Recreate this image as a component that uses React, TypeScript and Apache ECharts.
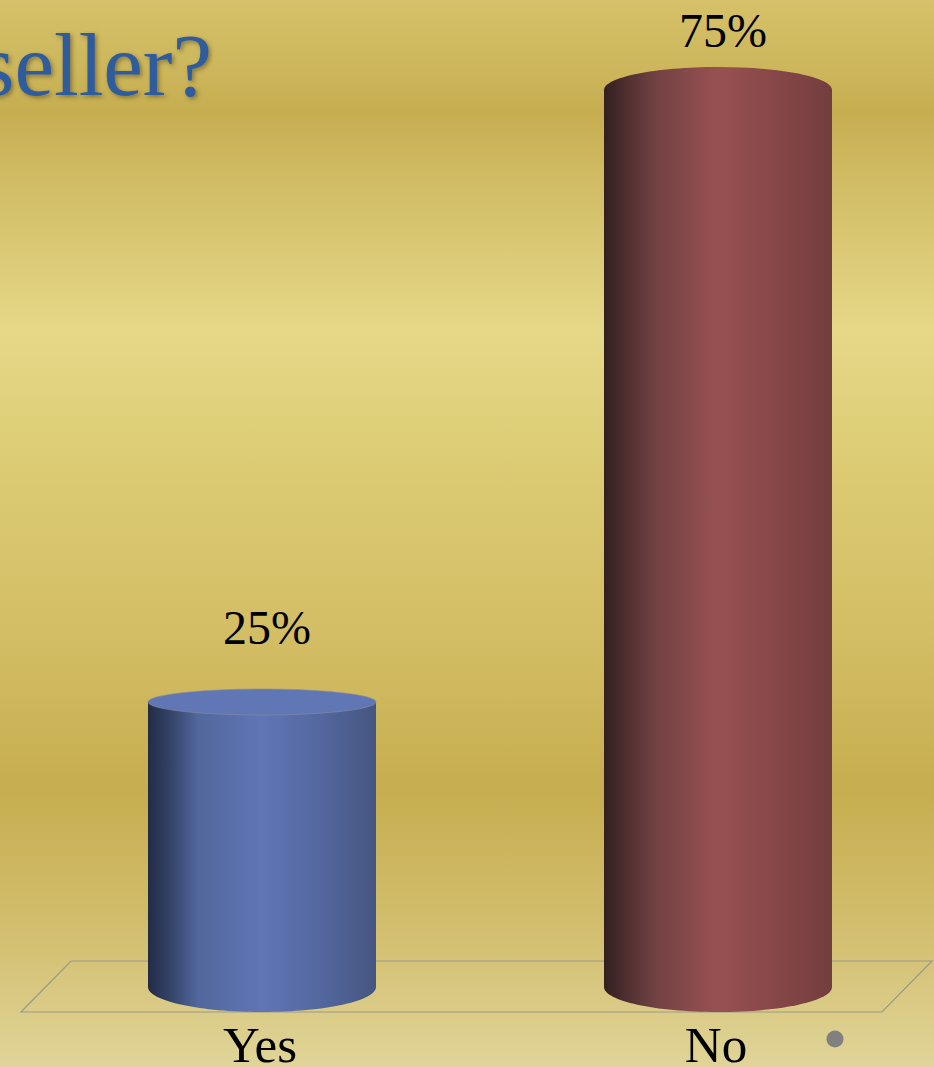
import React, { useEffect, useRef } from "react";
import * as echarts from "echarts";

const categories = ["Yes", "No"];
const percentValues = [25, 75];
const titleFragment = "seller?";

const serif = '"Liberation Serif", serif';
const sideGradient = (stops: [number, string][]) =>
  new echarts.graphic.LinearGradient(0, 0, 1, 0, stops.map(([offset, color]) => ({ offset, color })));

const barStyles = [
  {
    body: [[0, "#222c47"], [0.1, "#344368"], [0.22, "#52679d"], [0.5, "#6076b5"], [0.75, "#54689f"], [1, "#465680"]] as [number, string][],
    cap: "#6076b5",
    capStroke: "#8a8f9c",
    capRy: 13,
    labelGap: 75,
  },
  {
    body: [[0, "#33201f"], [0.1, "#4f2f30"], [0.22, "#714142"], [0.5, "#985152"], [0.75, "#874748"], [1, "#723d3e"]] as [number, string][],
    cap: null,
    capStroke: "none",
    capRy: 23,
    labelGap: 60,
  },
];

const BOTTOM_LIFT = 21;
const BOTTOM_RY = 25;

function renderCylinder(params: any, api: any) {
  const i = api.value(0);
  const [cx, topY] = api.coord([i, api.value(1)]);
  const [, zeroY] = api.coord([i, 0]);
  const baseY = zeroY - BOTTOM_LIFT;
  const w = api.size([1, 0])[0] * 0.5;
  const s = barStyles[i];
  const fill = sideGradient(s.body);
  return {
    type: "group",
    children: [
      { type: "ellipse", shape: { cx, cy: baseY, rx: w / 2, ry: BOTTOM_RY }, style: { fill } },
      { type: "rect", shape: { x: cx - w / 2, y: topY, width: w, height: baseY - topY }, style: { fill } },
      {
        type: "ellipse",
        shape: { cx, cy: topY, rx: w / 2, ry: s.capRy },
        style: { fill: s.cap || fill, stroke: s.capStroke, lineWidth: s.cap ? 0.6 : 0 },
      },
      {
        type: "text",
        style: {
          x: cx + 5,
          y: topY - s.labelGap,
          text: `${api.value(1)}%`,
          fill: "#000",
          font: `48px ${serif}`,
          textAlign: "center",
          textVerticalAlign: "middle",
        },
      },
    ],
  };
}

export default function App() {
  const ref = useRef<HTMLDivElement>(null);
  useEffect(() => {
    document.body.style.margin = "0";
    document.body.style.overflow = "hidden";
    const chart = echarts.init(ref.current!, null, { renderer: "svg" });
    chart.setOption({
      animation: false,
      backgroundColor: new echarts.graphic.LinearGradient(0, 0, 0, 1, [
        { offset: 0, color: "#d5c169" },
        { offset: 0.05, color: "#cfb95f" },
        { offset: 0.105, color: "#c6ad50" },
        { offset: 0.17, color: "#d1bc65" },
        { offset: 0.31, color: "#e5d887" },
        { offset: 0.45, color: "#dbca72" },
        { offset: 0.6, color: "#d3bd64" },
        { offset: 0.74, color: "#c6ad4f" },
        { offset: 0.87, color: "#d2be6e" },
        { offset: 1, color: "#e0d498" },
      ]),
      title: {
        text: titleFragment,
        right: 722,
        top: 20,
        padding: 0,
        textStyle: {
          fontFamily: serif,
          fontSize: 89,
          fontWeight: "normal",
          color: "#2f5c9c",
          textShadowColor: "rgba(70,60,30,0.55)",
          textShadowBlur: 4,
          textShadowOffsetX: 2,
          textShadowOffsetY: 2,
        },
      },
      grid: { left: 34, top: 90, width: 912, height: 918, outerBoundsMode: "none", containLabel: false },
      xAxis: {
        type: "category",
        data: categories,
        axisLine: { show: false },
        axisTick: { show: false },
        axisLabel: { color: "#000", fontFamily: serif, fontSize: 51, lineHeight: 40, margin: 17, padding: [0, 4, 0, 0] },
      },
      yAxis: { type: "value", min: 0, max: 75, interval: 25, show: false },
      graphic: [
        {
          type: "polygon",
          z: 0,
          shape: { points: [[71, 961], [932, 961], [882, 1012], [21, 1012]] },
          style: { fill: "none", stroke: "#9b9a88", lineWidth: 1.2 },
        },
        { type: "circle", z: 5, shape: { cx: 835, cy: 1039, r: 8.5 }, style: { fill: "#808080" } },
      ],
      series: [
        {
          type: "custom",
          z: 3,
          clip: false,
          renderItem: renderCylinder,
          encode: { x: 0, y: 1 },
          data: percentValues.map((v, i) => [i, v]),
        },
      ],
    });
    return () => chart.dispose();
  }, []);
  return <div ref={ref} style={{ width: 934, height: 1067 }} />;
}
